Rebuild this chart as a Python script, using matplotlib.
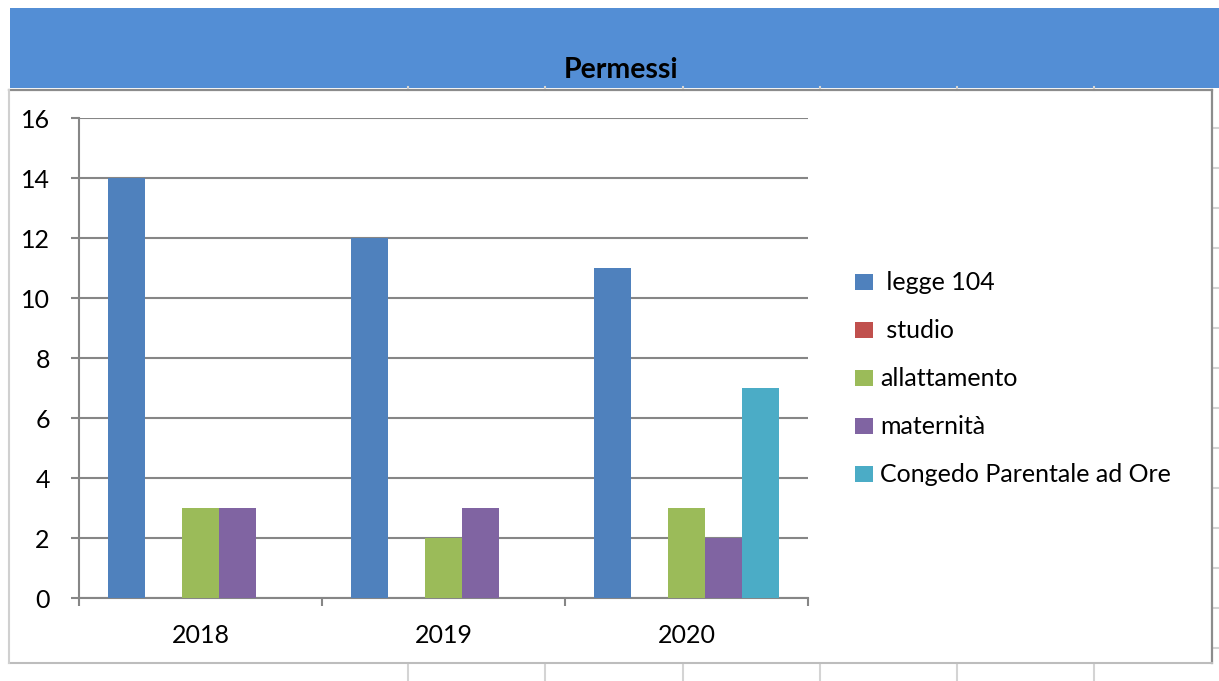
import matplotlib
matplotlib.use("Agg")
import matplotlib.pyplot as plt
from matplotlib.patches import Rectangle
from matplotlib.lines import Line2D
import numpy as np

plt.rcParams['font.family'] = ['Lato', 'DejaVu Sans']

# data
years = ["2018", "2019", "2020"]
series = [" legge 104", " studio", "allattamento", "maternità", "Congedo Parentale ad Ore"]
legge_104 = [14, 12, 11]
studio = [0, 0, 0]
allattamento = [3, 2, 3]
maternita = [3, 3, 2]
congedo = [0, 0, 7]
values = [legge_104, studio, allattamento, maternita, congedo]
colors = ["#4F81BD", "#C0504D", "#9BBB59", "#8064A2", "#4BACC6"]
y_ticks = list(range(0, 17, 2))

W, H = 1219, 681
fig = plt.figure(figsize=(W / 100, H / 100), dpi=100)
fig.patch.set_facecolor("white")


def fx(x):
    return x / W


def fy(y):
    return 1 - y / H


# spreadsheet cell marks around the chart
light = "#D4D4D4"
for x in [408, 545, 683, 820, 957, 1094]:
    fig.add_artist(Line2D([fx(x), fx(x)], [fy(665), fy(681)], color=light, lw=1.5))
    fig.add_artist(Line2D([fx(x), fx(x)], [fy(87), fy(90)], color=light, lw=1.5))
for y in range(128, 660, 40):
    fig.add_artist(Line2D([fx(1213), fx(1219)], [fy(y), fy(y)], color=light, lw=1.5))

# blue header band
fig.add_artist(Rectangle((fx(10), fy(88)), fx(1219) - fx(10), fy(8) - fy(88),
                         facecolor="#538ED5", edgecolor="none", zorder=0))
fig.text(fx(621), fy(70), "Permessi", ha="center", va="center",
         fontsize=20.5, fontweight="bold", color="black")

# chart area border (darker top/right, lighter left/bottom)
fig.add_artist(Line2D([fx(9), fx(1212)], [fy(89.5), fy(89.5)], color="#8C8C8C", lw=1.6))
fig.add_artist(Line2D([fx(1212), fx(1212)], [fy(89.5), fy(663)], color="#8C8C8C", lw=1.6))
fig.add_artist(Line2D([fx(9), fx(1212)], [fy(663), fy(663)], color="#BDBDBD", lw=1.5))
fig.add_artist(Line2D([fx(9), fx(9)], [fy(89.5), fy(663)], color="#D0D0D0", lw=1.5))

# axes
ax = fig.add_axes([fx(79), fy(598), fx(808) - fx(79), fy(118) - fy(598)])
ax.set_facecolor("white")
grid_c = "#868686"

w = 37 / 243
x = np.arange(len(years))
for i, (vals, c) in enumerate(zip(values, colors)):
    ax.bar(x + (i - 2) * w, vals, width=w, color=c, edgecolor="none", zorder=3)

ax.set_xlim(-0.5, 2.5)
ax.set_ylim(0, 16)
ax.set_yticks(y_ticks)
ax.yaxis.grid(True, color=grid_c, lw=1.5, zorder=0)
ax.set_axisbelow(True)

ax.set_xticks([-0.5, 0.5, 1.5, 2.5])
ax.set_xticklabels([])
ax.set_xticks(x, minor=True)
ax.set_xticklabels(years, minor=True, fontsize=18)
ax.tick_params(axis="x", which="major", length=6, width=1.5, color=grid_c, direction="out")
ax.tick_params(axis="x", which="minor", length=0, pad=19)
ax.tick_params(axis="y", length=6, width=1.5, color=grid_c, direction="out", pad=15, labelsize=18)

for s in ["top", "right"]:
    ax.spines[s].set_visible(False)
for s in ["left", "bottom"]:
    ax.spines[s].set_color(grid_c)
    ax.spines[s].set_linewidth(1.5)

# legend
row_y = [282, 330, 378, 426, 474]
for name, c, yy in zip(series, colors, row_y):
    fig.add_artist(Rectangle((fx(855), fy(yy + 8)), fx(873) - fx(855), fy(yy - 8) - fy(yy + 8),
                             facecolor=c, edgecolor="none"))
    fig.text(fx(880), fy(yy), name, ha="left", va="center", fontsize=18, color="black")

fig.savefig("out.png", dpi=100)
